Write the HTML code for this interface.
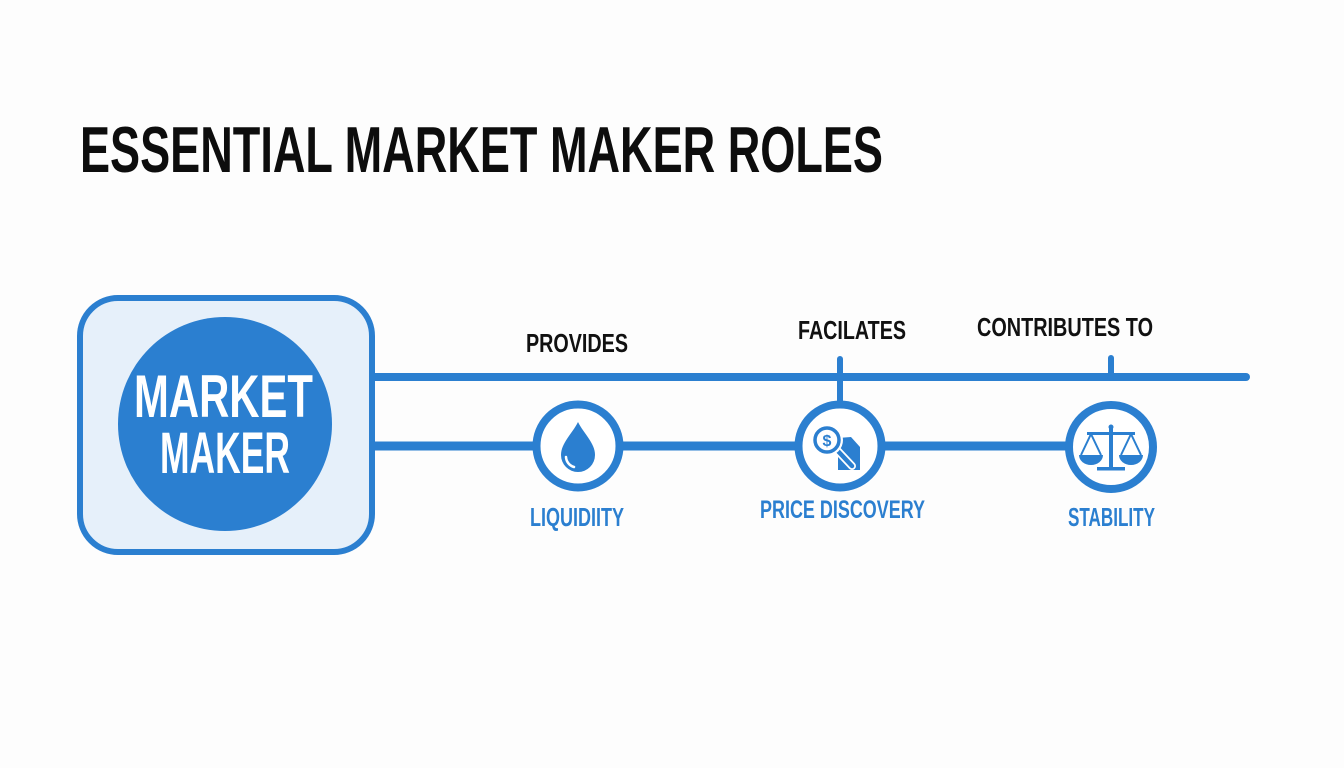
<!DOCTYPE html>
<html>
<head>
<meta charset="utf-8">
<style>
  html, body { margin:0; padding:0; background:#fdfdfd; }
  body { width:1344px; height:768px; overflow:hidden; }
  svg { display:block; }
  text { font-family: "Liberation Sans", "DejaVu Sans", sans-serif; font-weight:bold; }
</style>
</head>
<body>
<svg width="1344" height="768" viewBox="0 0 1344 768" xmlns="http://www.w3.org/2000/svg">
  <rect x="0" y="0" width="1344" height="768" fill="#fdfdfd"/>

  <!-- Title -->
  <text x="80" y="172" font-size="65" fill="#0d0d0d" textLength="803" lengthAdjust="spacingAndGlyphs">ESSENTIAL MARKET MAKER ROLES</text>

  <!-- connectors -->
  <line x1="372" y1="377" x2="1246" y2="377" stroke="#2b7fd0" stroke-width="8" stroke-linecap="round"/>
  <line x1="372" y1="446" x2="1070" y2="446" stroke="#2b7fd0" stroke-width="9"/>
  <line x1="840" y1="359" x2="840" y2="402" stroke="#2b7fd0" stroke-width="6" stroke-linecap="round"/>
  <line x1="1111" y1="358" x2="1111" y2="378" stroke="#2b7fd0" stroke-width="6" stroke-linecap="round"/>

  <!-- Market maker box -->
  <rect x="80" y="298" width="292" height="254" rx="38" ry="38" fill="#e6f0fa" stroke="#2b7fd0" stroke-width="6"/>
  <circle cx="225" cy="424" r="107" fill="#2b7fd0"/>
  <text x="134" y="417" font-size="60" fill="#ffffff" textLength="179" lengthAdjust="spacingAndGlyphs">MARKET</text>
  <text x="160" y="473" font-size="58" fill="#ffffff" textLength="130" lengthAdjust="spacingAndGlyphs">MAKER</text>

  <!-- Liquidity node -->
  <circle cx="578" cy="446" r="41.5" fill="#ffffff" stroke="#2b7fd0" stroke-width="8"/>
  <path d="M578 422 C584 434 595 443 595 455 A17 17 0 0 1 561 455 C561 443 572 434 578 422 Z" fill="#2b7fd0"/>
  <path d="M566 457 A11 11 0 0 0 574 467" fill="none" stroke="#ffffff" stroke-width="2.5" stroke-linecap="round"/>

  <!-- Price discovery node -->
  <circle cx="840" cy="446" r="41.5" fill="#ffffff" stroke="#2b7fd0" stroke-width="8"/>
  <path d="M838 438 L851 437 L860 447 L860 470 L838 470 Z" fill="#2b7fd0"/>
  <line x1="836" y1="449" x2="852" y2="466" stroke="#ffffff" stroke-width="8" stroke-linecap="round"/>
  <line x1="836" y1="449" x2="852" y2="466" stroke="#2b7fd0" stroke-width="4.5" stroke-linecap="round"/>
  <circle cx="827" cy="440" r="14" fill="#ffffff" stroke="#ffffff" stroke-width="4"/>
  <circle cx="827" cy="440" r="12" fill="#ffffff" stroke="#2b7fd0" stroke-width="3.5"/>
  <text x="827" y="446" font-size="16" fill="#2b7fd0" text-anchor="middle">$</text>

  <!-- Stability node -->
  <circle cx="1111" cy="447" r="42" fill="#ffffff" stroke="#2b7fd0" stroke-width="8"/>
  <g fill="#2b7fd0" stroke="#2b7fd0">
    <rect x="1109" y="427" width="4" height="41" stroke="none"/>
    <circle cx="1111" cy="427" r="2.5" stroke="none"/>
    <rect x="1087" y="432" width="48" height="3" stroke="none"/>
    <rect x="1097" y="467" width="28" height="3.5" stroke="none"/>
    <path d="M1091 434 L1081 455 M1091 434 L1101 455 M1131 434 L1121 455 M1131 434 L1141 455" fill="none" stroke-width="2"/>
    <path d="M1079 455 L1103 455 A12 10 0 0 1 1079 455 Z" stroke="none"/>
    <path d="M1119 455 L1143 455 A12 10 0 0 1 1119 455 Z" stroke="none"/>
  </g>

  <!-- Connector labels -->
  <text x="526" y="352" font-size="26" fill="#111111" textLength="102" lengthAdjust="spacingAndGlyphs">PROVIDES</text>
  <text x="798" y="339" font-size="26" fill="#111111" textLength="108" lengthAdjust="spacingAndGlyphs">FACILATES</text>
  <text x="977" y="336" font-size="26" fill="#111111" textLength="176" lengthAdjust="spacingAndGlyphs">CONTRIBUTES TO</text>

  <!-- Node labels -->
  <text x="530" y="526" font-size="26" fill="#2b7fd0" textLength="94" lengthAdjust="spacingAndGlyphs">LIQUIDIITY</text>
  <text x="760" y="518" font-size="25" fill="#2b7fd0" textLength="165" lengthAdjust="spacingAndGlyphs">PRICE DISCOVERY</text>
  <text x="1068" y="526" font-size="26" fill="#2b7fd0" textLength="87" lengthAdjust="spacingAndGlyphs">STABILITY</text>
</svg>
</body>
</html>
